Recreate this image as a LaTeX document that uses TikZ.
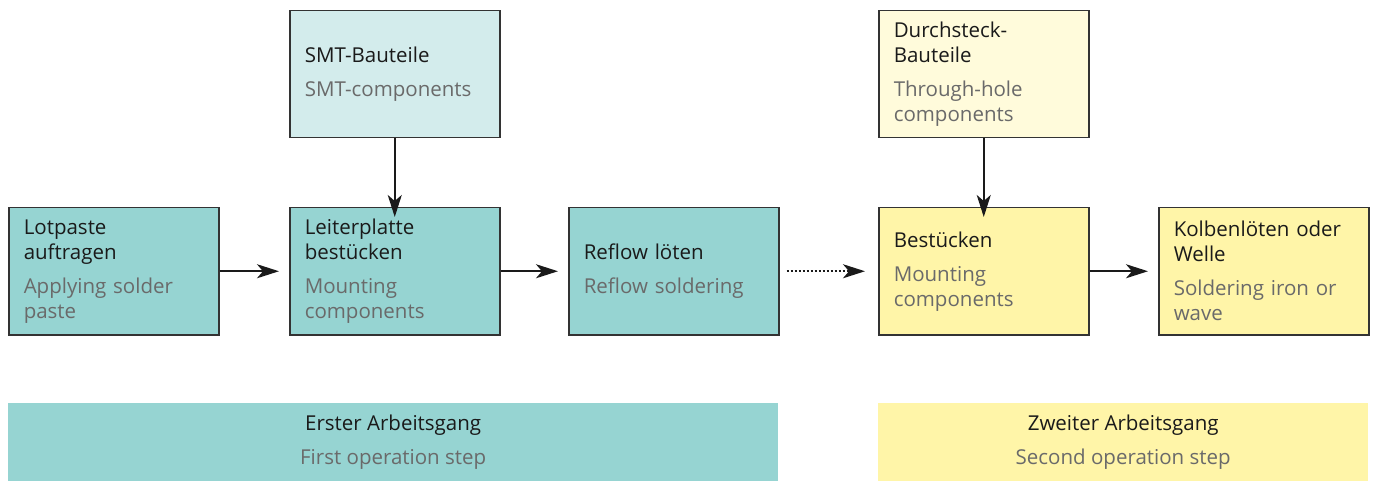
\documentclass[tikz,border=0pt]{standalone}
\usepackage{fontspec}
\setmainfont{Open Sans}
\usetikzlibrary{arrows.meta}
\definecolor{teal1}{HTML}{96D4D2}
\definecolor{teal2}{HTML}{D3ECEC}
\definecolor{yel1}{HTML}{FFF5A8}
\definecolor{yel2}{HTML}{FFFBDB}
\definecolor{txtde}{HTML}{1A1A1A}
\definecolor{txten}{HTML}{6A6A6A}
\definecolor{bord}{HTML}{333333}
\newcommand{\en}[1]{{\color{txten}#1}}
\begin{document}
\begin{tikzpicture}[x=1pt,y=-1pt,
  box/.style={draw=bord,line width=1.5pt,rectangle,minimum width=210pt,minimum height=127pt,
    text width=180pt,inner xsep=15pt,inner ysep=0pt,align=left,anchor=north west,
    font=\fontsize{20.5}{25}\selectfont,text=txtde},
  band/.style={rectangle,minimum width=#1,minimum height=78pt,anchor=north west,align=center,
    inner sep=0pt,font=\fontsize{20.5}{25}\selectfont,text=txtde},
  arr/.style={line width=2pt,draw=txtde,-{Stealth[length=22pt,width=14pt,inset=6pt]}},
  ]
\useasboundingbox (0,0) rectangle (1376,481);
\node[box,fill=teal1] (lot) at (8,207) {Lotpaste\\auftragen\\[9pt]\en{Applying solder}\\\en{paste}};
\node[box,fill=teal1] (lei) at (289,207) {Leiterplatte\\bestücken\\[9pt]\en{Mounting}\\\en{components}};
\node[box,fill=teal1] (ref) at (568,207) {Reflow löten\\[9pt]\en{Reflow soldering}};
\node[box,fill=yel1] (bes) at (878,207) {Bestücken\\[9pt]\en{Mounting}\\\en{components}};
\node[box,fill=yel1] (kol) at (1158,207) {Kolbenlöten oder\\Welle\\[9pt]\en{Soldering iron or}\\\en{wave}};
\node[box,fill=teal2] (smt) at (289,10) {SMT-Bauteile\\[9pt]\en{SMT-components}};
\node[box,fill=yel2] (dur) at (878,10) {Durchsteck-\\Bauteile\\[9pt]\en{Through-hole}\\\en{components}};
\node[band=770pt,fill=teal1] (b1) at (8,403) {Erster Arbeitsgang\\[9pt]\en{First operation step}};
\node[band=490pt,fill=yel1] (b2) at (878,403) {Zweiter Arbeitsgang\\[9pt]\en{Second operation step}};
\draw[arr] (lot.east) -- ([xshift=-10pt]lei.west);
\draw[arr] (lei.east) -- ([xshift=-10pt]ref.west);
\draw[arr] (bes.east) -- ([xshift=-10pt]kol.west);
\draw[arr] (smt.south) -- ([yshift=-10pt]lei.north);
\draw[arr] (dur.south) -- ([yshift=-10pt]bes.north);
\draw[arr,dotted] ([xshift=7pt]ref.east) -- ([xshift=-13pt]bes.west);
\end{tikzpicture}
\end{document}
